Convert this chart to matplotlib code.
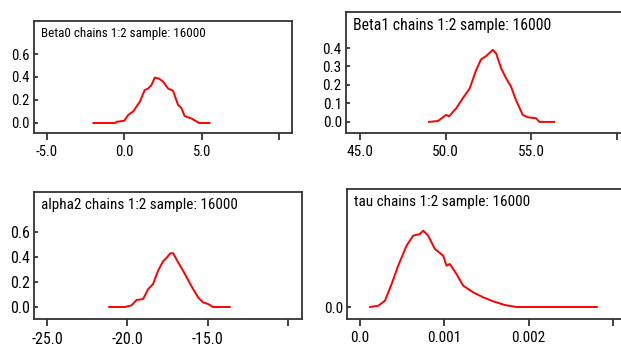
import matplotlib
matplotlib.use("Agg")
import matplotlib.pyplot as plt

plt.rcParams['font.family'] = ['Roboto Condensed', 'Liberation Sans Narrow', 'Liberation Sans', 'DejaVu Sans']

# Posterior density traces
beta0_x = [-2.0, -0.6, -0.5, 0.0, 0.25, 0.57, 1.0, 1.32, 1.54, 1.75, 1.97, 2.25, 2.5,
           2.83, 3.15, 3.47, 3.69, 3.9, 4.33, 4.83, 5.5]
beta0_y = [0.0, 0.0, 0.01, 0.02, 0.07, 0.10, 0.185, 0.287, 0.30, 0.33, 0.395, 0.385, 0.36,
           0.30, 0.28, 0.157, 0.13, 0.06, 0.04, 0.0, 0.0]

beta1_x = [49.03, 49.55, 50.04, 50.2, 50.62, 51.0, 51.4, 51.78, 52.07, 52.37, 52.75, 52.95,
           53.24, 53.53, 53.82, 54.1, 54.5, 54.79, 55.27, 55.47, 56.33]
beta1_y = [0.0, 0.005, 0.038, 0.03, 0.074, 0.128, 0.18, 0.28, 0.339, 0.357, 0.39, 0.37,
           0.29, 0.236, 0.19, 0.119, 0.038, 0.025, 0.02, 0.0, 0.0]

alpha2_x = [-21.13, -20.16, -19.74, -19.43, -19.02, -18.7, -18.4, -18.09, -17.78, -17.57,
            -17.32, -17.15, -16.84, -16.53, -16.22, -15.91, -15.6, -15.29, -14.98, -14.67, -13.63]
alpha2_y = [0.0, 0.0, 0.013, 0.056, 0.064, 0.144, 0.184, 0.29, 0.365, 0.392,
            0.43, 0.43, 0.357, 0.29, 0.216, 0.144, 0.077, 0.037, 0.024, 0.0, 0.0]

tau_x = [0.000118, 0.000217, 0.000296, 0.000375, 0.000453, 0.000552, 0.00063, 0.00071,
         0.00075, 0.000808, 0.000888, 0.000986, 0.001026, 0.001065, 0.001144, 0.001223,
         0.001341, 0.00146, 0.001578, 0.001716, 0.001854, 0.002808]
tau_y = [0, 24, 116, 424, 761, 1130, 1314, 1345, 1406, 1314, 1069, 945, 761, 792, 608, 393,
         270, 178, 105, 37, 0, 0]

titles = ["Beta0 chains 1:2 sample: 16000", "Beta1 chains 1:2 sample: 16000",
          "alpha2 chains 1:2 sample: 16000", "tau chains 1:2 sample: 16000"]
xticks = [[-5, 0, 5, 10], [45, 50, 55, 60], [-25, -20, -15, -10], [0, 0.001, 0.002, 0.003]]
xlabels = [["-5.0", "0.0", "5.0", ""], ["45.0", "50.0", "55.0", ""],
           ["-25.0", "-20.0", "-15.0", ""], ["0.0", "0.001", "0.002", ""]]
yticks = [[0, 0.2, 0.4, 0.6], [0, 0.1, 0.2, 0.3, 0.4], [0, 0.2, 0.4, 0.6], [0]]
ylabels = [["0.0", "0.2", "0.4", "0.6"], ["0.0", "0.1", "0.2", "0.3", "0.4"],
           ["0.0", "0.2", "0.4", "0.6"], ["0.0"]]

xs = [beta0_x, beta1_x, alpha2_x, tau_x]
ys = [beta0_y, beta1_y, alpha2_y, tau_y]

# frame boxes in pixels: left, top, right, bottom
W, H = 621, 348
boxes = [(34, 21, 292, 133), (346, 12, 640, 133), (34, 192, 302, 319), (347, 189, 640, 319)]
xlims = [(-5.84, 10.84), (44.19, 61.34), (-25.81, -9.13), (-0.000154, 0.00332)]
ylims = [(-0.087, 0.887), (-0.06, 0.595), (-0.096, 0.92), (-221, 2174)]
title_size = [9.4, 11.3, 10.9, 11.0]
tick_size = [10.5, 11, 11.5, 11]

fig = plt.figure(figsize=(W / 100, H / 100), dpi=100)

for i in range(4):
    l, t, r, b = boxes[i]
    ax = fig.add_axes([l / W, 1 - b / H, (r - l) / W, (b - t) / H])
    ax.plot(xs[i], ys[i], color="red", lw=1.4)
    ax.set_xlim(xlims[i])
    ax.set_ylim(ylims[i])
    ax.set_xticks(xticks[i])
    ax.set_xticklabels(xlabels[i])
    ax.set_yticks(yticks[i])
    ax.set_yticklabels(ylabels[i])
    ax.tick_params(axis="x", direction="out", length=5, width=1.2, pad=4,
                   labelsize=tick_size[i], color="#222222")
    ax.tick_params(axis="y", direction="in", length=3, width=1.2, pad=3,
                   labelsize=tick_size[i], color="#222222")
    for s in ax.spines.values():
        s.set_linewidth(1.3)
        s.set_color("#333333")
    ax.annotate(titles[i], (0, 1), xycoords="axes fraction", xytext=(7, -6),
                textcoords="offset pixels", va="top", ha="left", fontsize=title_size[i])

fig.savefig("out.png", dpi=100)
